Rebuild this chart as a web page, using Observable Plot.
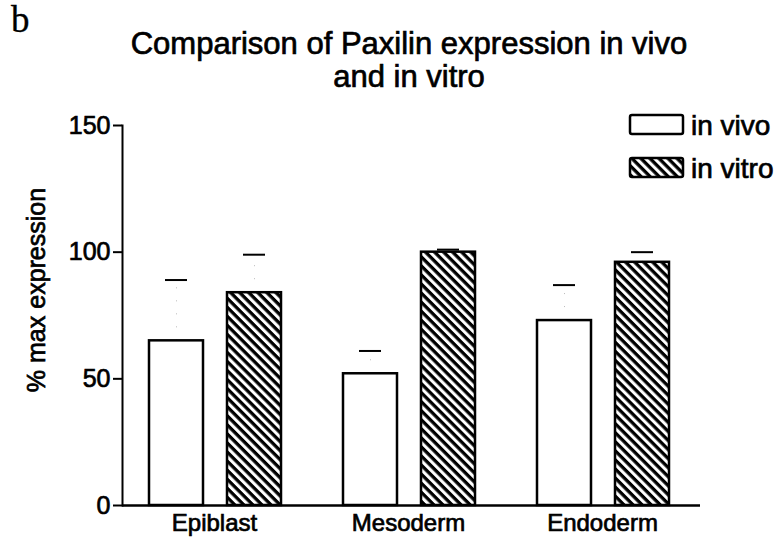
<!DOCTYPE html>
<html><head><meta charset="utf-8">
<script src="https://cdn.jsdelivr.net/npm/d3@7"></script>
<script src="https://cdn.jsdelivr.net/npm/@observablehq/plot@0.6"></script>
<style>
body{margin:0;background:#fff;}
#wrap{position:relative;width:784px;height:538px;font-family:"Liberation Sans",Arial,sans-serif;color:#000;overflow:hidden;background:#fff}
#wrap > svg.plot{position:absolute;left:0;top:0}
.t{position:absolute;white-space:nowrap;-webkit-text-stroke:0.7px #000}
svg text{stroke:#000;stroke-width:0.7px}
</style></head><body>
<svg width="0" height="0" style="position:absolute"><defs>
<pattern id="hatch" patternUnits="userSpaceOnUse" width="6.4" height="6.4" patternTransform="rotate(45)">
<rect width="6.4" height="6.4" fill="#fff"/><rect width="6.4" height="3.3" fill="#000"/></pattern></defs></svg>
<div id="wrap">
  <div class="t" style="left:11px;top:0px;font-family:'Liberation Serif',serif;font-size:37px;line-height:40px;-webkit-text-stroke:0.3px #000">b</div>
  <div class="t" style="left:109px;top:27px;width:600px;text-align:center;font-size:31px;line-height:33px">Comparison of Paxilin expression in vivo<br>and in vitro</div>
  <div class="t" style="left:36px;top:290px;font-size:25px;transform:translate(-50%,-50%) rotate(-90deg)">% max expression</div>
  <svg id="legend" width="170" height="80" style="position:absolute;left:620px;top:108px"></svg>
</div>
<script>
const categories = ["Epiblast", "Mesoderm", "Endoderm"];
const series = ["in vivo", "in vitro"];
const inVivo = [65, 52, 73];
const inVivoSem = [24, 9, 14];
const inVitro = [84, 100, 96];
const inVitroSem = [15, 1, 4];
const yTicks = [0, 50, 100, 150];
const title = "Comparison of Paxilin expression in vivo and in vitro";

const vivo = categories.map((c, i) => ({category: c, series: series[0], value: inVivo[i], sem: inVivoSem[i]}));
const vitro = categories.map((c, i) => ({category: c, series: series[1], value: inVitro[i], sem: inVitroSem[i]}));

const fills = {"in vivo": "#fff", "in vitro": "url(#hatch)"};
const offs = {"in vivo": -38, "in vitro": 40};

function group(data) {
  const s = data[0].series;
  const dx = offs[s];
  return [
    Plot.ruleX(data, {x: "category", y1: "value", y2: d => d.value + d.sem, dx, stroke: "#bbb", strokeWidth: 1, strokeDasharray: "1,12"}),
    Plot.tickY(data, {x: "category", y: d => d.value + d.sem, dx, insetLeft: 86, insetRight: 86, stroke: "#000", strokeWidth: 2}),
    Plot.barY(data, {x: "category", y: "value", dx, insetLeft: 70, insetRight: 70, fill: fills[s], stroke: "#000", strokeWidth: 2.5})
  ];
}

const chart = Plot.plot({
  width: 784, height: 538,
  marginTop: 125, marginBottom: 33, marginLeft: 122, marginRight: 84,
  style: {background: "transparent", fontFamily: "'Liberation Sans', Arial, sans-serif", fontSize: "25px", color: "#000"},
  x: {domain: categories, padding: 0, insetLeft: -6, label: null},
  y: {domain: [0, 150], label: null},
  marks: [
    group(vivo),
    group(vitro),
    Plot.frame({anchor: "left", stroke: "#000", strokeWidth: 2}),
    Plot.axisY(yTicks, {tickSize: 9, strokeWidth: 2, tickPadding: 3, fontSize: 25, label: null}),
    Plot.axisX({tickSize: 0, tickPadding: 8, fontSize: 24, label: null}),
    Plot.ruleY([0], {strokeWidth: 2.5})
  ]
});
chart.classList.add("plot");
document.getElementById("wrap").appendChild(chart);

// legend
const lg = d3.select("#legend");
series.forEach((s, i) => {
  const y = 7 + i * 43;
  lg.append("rect").attr("x", 10).attr("y", y).attr("width", 53).attr("height", 19).attr("rx", 2)
    .attr("fill", fills[s]).attr("stroke", "#000").attr("stroke-width", 2.5);
  lg.append("text").attr("x", 71).attr("y", y + 10).attr("dy", "0.35em")
    .attr("font-size", 28).attr("font-family", "'Liberation Sans', Arial, sans-serif").text(s);
});
</script>
</body></html>
